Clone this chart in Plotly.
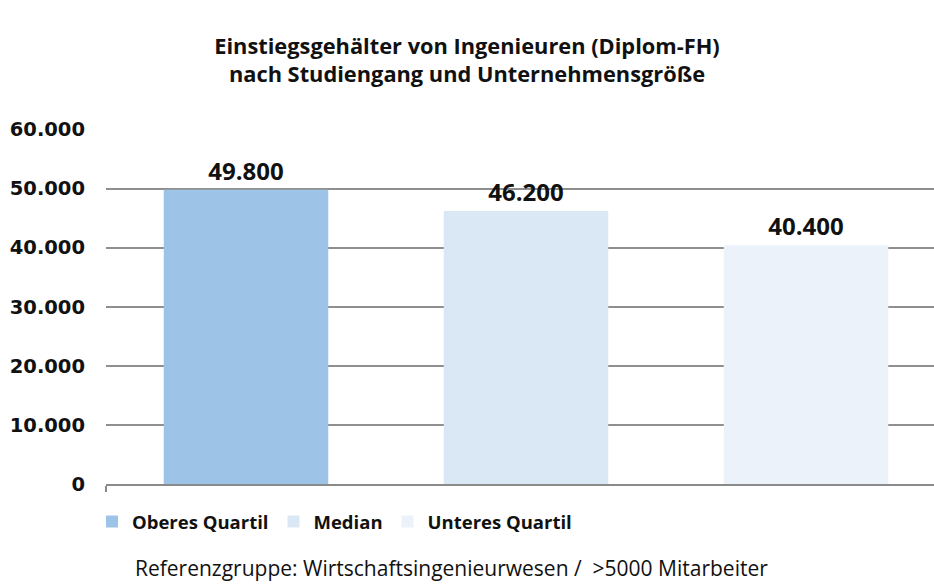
import plotly.graph_objects as go

series_names = ["Oberes Quartil", "Median", "Unteres Quartil"]
series_values = [49800, 46200, 40400]
series_colors = ["#9DC3E6", "#DAE8F5", "#EBF2FA"]
y_tickvals = [0, 10000, 20000, 30000, 40000, 50000, 60000]

title_text = "Einstiegsgehälter von Ingenieuren (Diplom-FH)<br>nach Studiengang und Unternehmensgröße"
footer_text = "Referenzgruppe: Wirtschaftsingenieurwesen / \u00a0>5000 Mitarbeiter"

fig = go.Figure()
for name, val, col in zip(series_names, series_values, series_colors):
    fig.add_trace(go.Bar(
        x=[name], y=[val], name=name,
        marker=dict(color=col, line=dict(width=0)),
        texttemplate="%{y:,}", textposition="outside",
        textfont=dict(family="Open Sans", size=24, color="#111", weight="bold"),
        cliponaxis=False,
    ))

fig.update_layout(
    width=934, height=584,
    margin=dict(l=106, r=0, t=129, b=100),
    paper_bgcolor="white", plot_bgcolor="white",
    separators=",.",
    barmode="overlay", bargap=0.4125,
    title=dict(text=title_text, x=0.5, xref="container", xanchor="center",
               y=1 - 54 / 584, yref="container", yanchor="middle",
               font=dict(family="Open Sans", size=21.8, color="#111", weight="bold")),
    showlegend=True,
    legend=dict(orientation="h", x=92 / 934, xref="container", xanchor="left",
                y=1 - 522 / 584, yref="container", yanchor="middle",
                font=dict(family="Open Sans", size=18.5, color="#111", weight="bold"),
                traceorder="normal", itemsizing="constant"),
    xaxis=dict(categoryorder="array", categoryarray=series_names,
               range=[-0.5, 2.457], showgrid=False, zeroline=False,
               showline=True, linecolor="#8a8a8a", linewidth=2,
               tickmode="array", tickvals=[-0.5], ticktext=[""],
               ticks="outside", ticklen=6, tickwidth=2, tickcolor="#8a8a8a"),
    yaxis=dict(range=[0, 60080], tickvals=y_tickvals, tickformat=",",
               showgrid=True, gridcolor="#8f8f8f", gridwidth=2,
               zeroline=False, showline=False, ticks="",
               ticklabelstandoff=20,
               tickfont=dict(family="DejaVu Sans", size=19.5, color="#111", weight="bold")),
    annotations=[dict(text=footer_text, xref="paper", yref="paper",
                      x=0.417, y=-0.237, xanchor="center", yanchor="middle",
                      showarrow=False,
                      font=dict(family="Open Sans", size=21, color="#111"))],
)

fig.write_html("out.html", config={"displayModeBar": False},
               post_script="document.body.style.margin='0';document.body.style.overflow='hidden';")
